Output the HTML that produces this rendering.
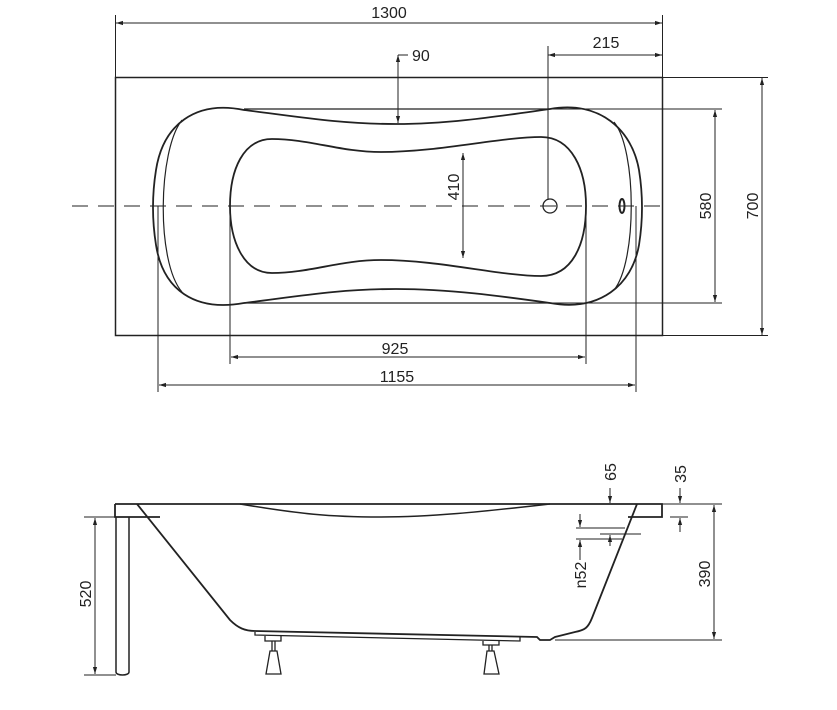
<!DOCTYPE html>
<html><head><style>
html,body{margin:0;padding:0;background:#fff;}
svg{display:block;}
text{font-family:"Liberation Sans",sans-serif;font-size:16px;fill:#222;}
</style></head><body>
<svg width="837" height="710" viewBox="0 0 837 710" xmlns="http://www.w3.org/2000/svg">
<defs>
<marker id="a" viewBox="0 0 10 10" refX="10" refY="5" markerWidth="7" markerHeight="7" orient="auto-start-reverse"><path d="M0,2 L10,5 L0,8 Z" fill="#222"/></marker>
</defs>
<g fill="none" stroke="#222" stroke-width="1">
<!-- top view -->
<rect x="115.5" y="77.5" width="547" height="258" stroke-width="1.5"/>
<line x1="72" y1="206" x2="668" y2="206" stroke-dasharray="16,10"/>
<path stroke-width="1.8" d="M244,110 C300,117 340,124 396,124 C450,124 500,116 550,109 C600,100 632,130 639,170 C643,195 643,220 639,245 C632,285 600,312 550,303 C500,296 450,289 396,289 C340,289 300,296 244,303 C195,312 163,290 156,245 C152,220 152,195 156,170 C163,125 195,100 244,110 Z"/>
<path stroke-width="1.2" d="M244,109 L550,109 M244,303 L550,303"/>
<path stroke-width="1.2" d="M182,120 C158,150 156,262 182,292 M614,122 C637,150 637,262 614,290"/>
<path stroke-width="1.8" d="M272,139 C310,139 340,152 381,152 C440,152 500,137 541,137 C572,137 586,170 586,206 C586,245 572,276 541,276 C500,276 440,260 381,260 C340,260 310,273 272,273 C243,273 230,240 230,206 C230,170 243,139 272,139 Z"/>
<circle cx="550" cy="206" r="7" stroke-width="1.3"/>
<ellipse cx="622" cy="206" rx="2.5" ry="7" stroke-width="2"/>
<!-- dims top -->
<line x1="115.5" y1="15" x2="115.5" y2="77"/><line x1="662.5" y1="15" x2="662.5" y2="77"/>
<line x1="116" y1="23" x2="662" y2="23" marker-start="url(#a)" marker-end="url(#a)"/>
<line x1="548" y1="46" x2="548" y2="200"/>
<line x1="548" y1="55" x2="662" y2="55" marker-start="url(#a)" marker-end="url(#a)"/>
<line x1="398" y1="55" x2="398" y2="123" marker-start="url(#a)" marker-end="url(#a)"/>
<line x1="398" y1="55" x2="408" y2="55"/>
<line x1="463" y1="153" x2="463" y2="258" marker-start="url(#a)" marker-end="url(#a)"/>
<line x1="550" y1="109" x2="722" y2="109"/><line x1="550" y1="303" x2="722" y2="303"/>
<line x1="715" y1="110" x2="715" y2="302" marker-start="url(#a)" marker-end="url(#a)"/>
<line x1="662" y1="77.5" x2="768" y2="77.5"/><line x1="662" y1="335.5" x2="768" y2="335.5"/>
<line x1="762" y1="78" x2="762" y2="335" marker-start="url(#a)" marker-end="url(#a)"/>
<line x1="230" y1="206" x2="230" y2="364"/><line x1="586" y1="206" x2="586" y2="364"/>
<line x1="231" y1="357" x2="585" y2="357" marker-start="url(#a)" marker-end="url(#a)"/>
<line x1="158" y1="206" x2="158" y2="392"/><line x1="636" y1="206" x2="636" y2="392"/>
<line x1="159" y1="385" x2="635" y2="385" marker-start="url(#a)" marker-end="url(#a)"/>
<!-- side view -->
<path stroke-width="1.8" d="M115,504 L662,504 L662,517 L628,517 M637,504 L592,618 C588,628 585,630 575,632 L555,637 L550,640 L540,640 L537,637 L255,631 C245,631 238,628 230,620 L137,504 M115,504 L115,517 L160,517"/>
<path stroke-width="1.5" d="M116,517 L116,672 C116,676 129,676 129,672 L129,517"/>
<path stroke-width="1.5" d="M240,504 C300,514 330,517 380,517 C430,517 480,512 550,504"/>
<path stroke-width="1.3" d="M255,632 L255,635 L520,641 L520,637"/>
<path stroke-width="1.3" d="M265,636 L265,641 L281,641 L281,636 M272,641 L272,651 M275,641 L275,651 M270,651 L277,651 L281,674 L266,674 Z"/>
<path stroke-width="1.3" d="M483,641 L483,645 L499,645 L499,641 M489,645 L489,651 M492,645 L492,651 M487,651 L494,651 L499,674 L484,674 Z"/>
<line x1="84" y1="517" x2="116" y2="517"/><line x1="84" y1="675" x2="116" y2="675"/>
<line x1="95" y1="518" x2="95" y2="674" marker-start="url(#a)" marker-end="url(#a)"/>
<line x1="555" y1="640" x2="722" y2="640"/><line x1="662" y1="504" x2="722" y2="504"/>
<line x1="714" y1="505" x2="714" y2="639" marker-start="url(#a)" marker-end="url(#a)"/>
<line x1="610" y1="488" x2="610" y2="503" marker-end="url(#a)"/>
<line x1="680" y1="488" x2="680" y2="503" marker-end="url(#a)"/>
<line x1="680" y1="532" x2="680" y2="518" marker-end="url(#a)"/>
<line x1="670" y1="517" x2="688" y2="517"/>
<line x1="576" y1="528" x2="625" y2="528"/><line x1="576" y1="539" x2="622" y2="539"/>
<line x1="600" y1="534" x2="641" y2="534"/>
<line x1="580" y1="514" x2="580" y2="527" marker-end="url(#a)"/>
<line x1="580" y1="552" x2="580" y2="540" marker-end="url(#a)"/>
<line x1="610" y1="546" x2="610" y2="535" marker-end="url(#a)"/>
<line x1="580" y1="552" x2="580" y2="560"/>
</g>
<g>
<text x="389" y="18" text-anchor="middle">1300</text>
<text x="606" y="48" text-anchor="middle">215</text>
<text x="412" y="61">90</text>
<text x="395" y="354" text-anchor="middle">925</text>
<text x="397" y="382" text-anchor="middle">1155</text>
<text transform="translate(459,187) rotate(-90)" text-anchor="middle">410</text>
<text transform="translate(711,206) rotate(-90)" text-anchor="middle">580</text>
<text transform="translate(758,206) rotate(-90)" text-anchor="middle">700</text>
<text transform="translate(91,594) rotate(-90)" text-anchor="middle">520</text>
<text transform="translate(710,574) rotate(-90)" text-anchor="middle">390</text>
<text transform="translate(586,575) rotate(-90)" text-anchor="middle">n52</text>
<text transform="translate(616,472) rotate(-90)" text-anchor="middle">65</text>
<text transform="translate(686,474) rotate(-90)" text-anchor="middle">35</text>
</g>
</svg>
</body></html>
